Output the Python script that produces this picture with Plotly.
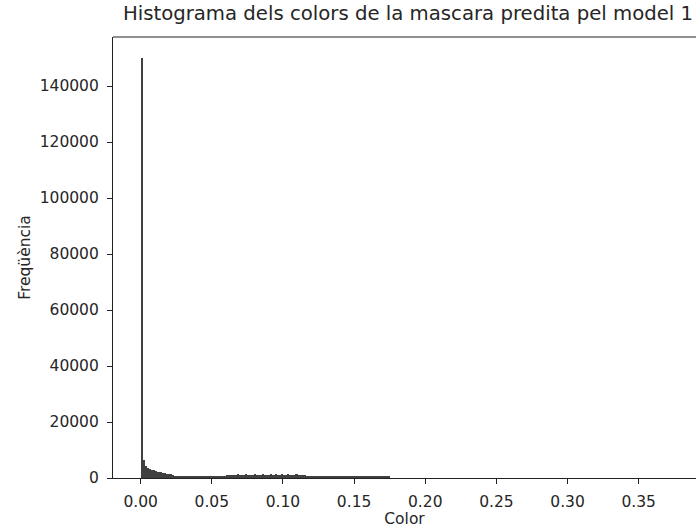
import plotly.graph_objects as go

# Histogram data
bin_width = 0.00147
counts = [
    150000, 6400, 4300, 3700, 3300, 3000, 2700, 2450, 2250, 2050,
    1750, 1650, 1550, 1450, 1350, 1250, 650, 620, 600, 640,
    580, 610, 590, 630, 570, 600, 620, 560, 600, 590,
    610, 580, 600, 620, 570, 590, 610, 600, 580, 620,
    650, 1050, 1150, 1000, 1200, 1100, 1300, 1050, 1250, 1150,
    1350, 1100, 1200, 1050, 1300, 1250, 1000, 1150, 1350, 1200,
    1100, 1250, 1400, 1050, 1300, 1150, 1250, 1350, 1000, 1200,
    1300, 1150, 1250, 1100, 1350, 1200, 1050, 1250, 1150, 800,
    760, 740, 800, 720, 780, 750, 700, 770, 740, 760,
    720, 780, 730, 760, 740, 700, 400, 380, 390, 360,
    410, 370, 380, 400, 360, 390, 380, 370, 400, 360,
    390, 380, 370, 400, 380, 360, 390, 370, 380,
]
bin_centers = [(i + 0.5) * bin_width for i in range(len(counts))]

x_ticks = [0.00, 0.05, 0.10, 0.15, 0.20, 0.25, 0.30, 0.35, 0.40]
y_ticks = [0, 20000, 40000, 60000, 80000, 100000, 120000, 140000]

title_text = "Histograma dels colors de la mascara predita pel model 1"
x_label = "Color"
y_label = "Freqüència"

FONT = "DejaVu Sans"
TXT = "#262626"

fig = go.Figure()
fig.add_trace(go.Bar(
    x=bin_centers, y=counts, width=bin_width,
    marker=dict(color="#404040", line=dict(width=0)),
    hoverinfo="x+y",
))

fig.update_layout(
    width=696, height=528,
    margin=dict(l=113, r=0, t=37, b=50, pad=0),
    paper_bgcolor="white", plot_bgcolor="white",
    showlegend=False, bargap=0,
    font=dict(family=FONT, size=15.5, color=TXT),
    title=dict(
        text=title_text, xref="container", yref="container",
        x=408 / 696, xanchor="center", y=1 - 13 / 528, yanchor="middle",
        font=dict(family=FONT, size=19.7, color=TXT),
    ),
    xaxis=dict(
        range=[-0.01946, 0.3903], autorange=False,
        tickmode="array", tickvals=x_ticks,
        ticktext=[f"{v:.2f}" for v in x_ticks],
        ticks="outside", ticklen=5, tickwidth=1.1, tickcolor="#222",
        showline=True, linecolor="#222", linewidth=1.1, mirror=False,
        showgrid=False, zeroline=False, automargin=False,
        ticklabelstandoff=4,
        title=dict(text=x_label, standoff=6, font=dict(size=15.5, color=TXT)),
    ),
    yaxis=dict(
        range=[0, 157500], autorange=False,
        tickmode="array", tickvals=y_ticks,
        ticktext=[str(v) for v in y_ticks],
        ticks="outside", ticklen=5, tickwidth=1.1, tickcolor="#222",
        showline=True, linecolor="#222", linewidth=1.1, mirror=False,
        showgrid=False, zeroline=False, automargin=False,
        ticklabelstandoff=5,
        title=dict(text=y_label, standoff=5, font=dict(size=15.5, color=TXT)),
    ),
    shapes=[dict(type="line", xref="paper", yref="paper", x0=0, x1=1, y0=1, y1=1,
                 line=dict(color="#222", width=1.1))],
)

fig.write_html("out.html", config={"displayModeBar": False},
               post_script="document.body.style.margin='0';")
